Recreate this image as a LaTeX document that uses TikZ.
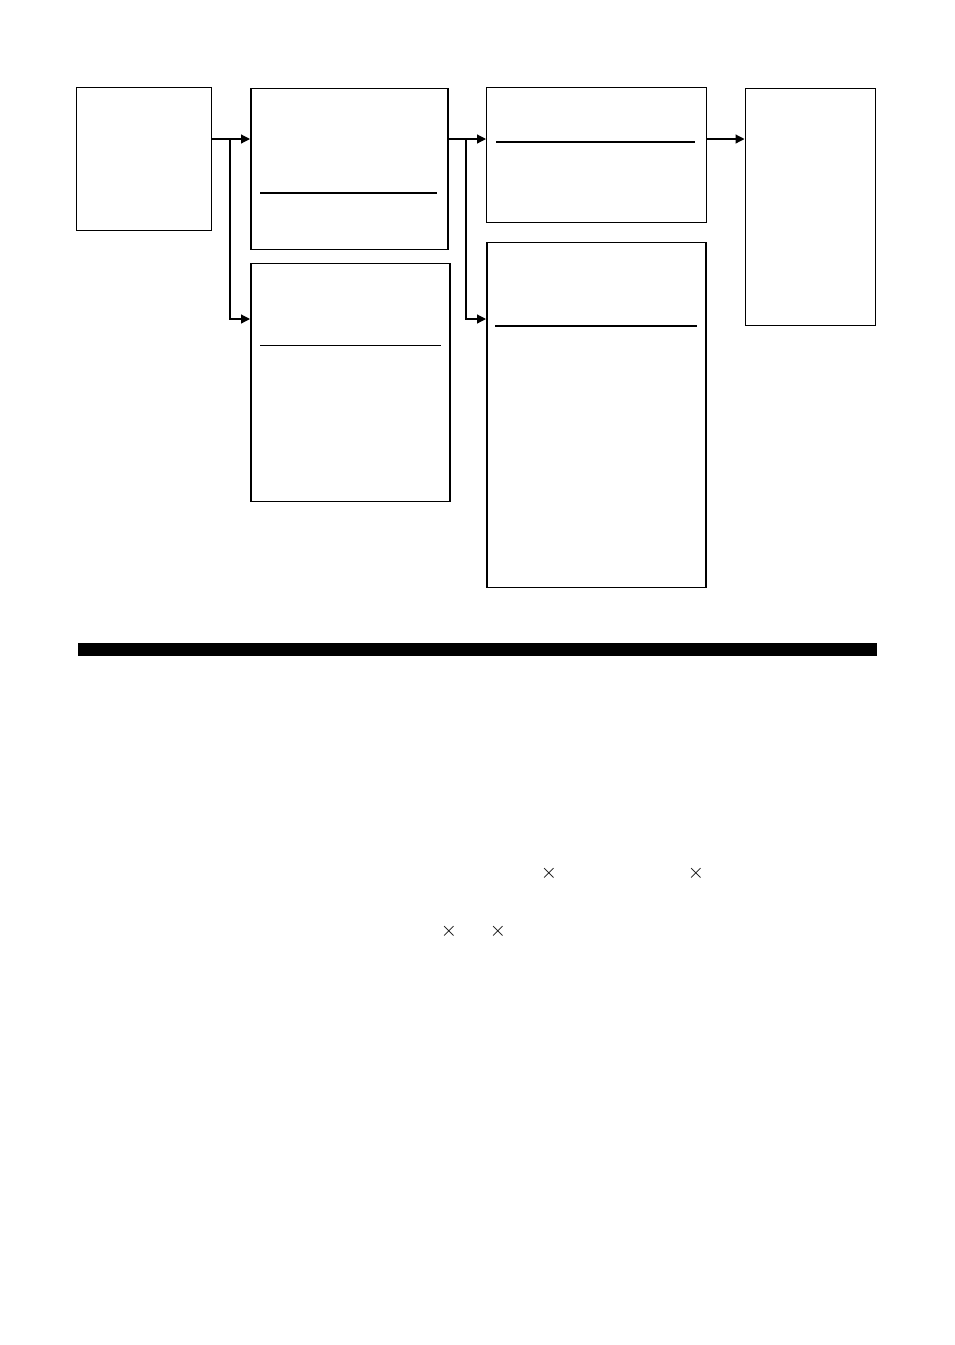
\documentclass[tikz,border=0pt]{standalone}
\usetikzlibrary{arrows.meta}
\begin{document}
\begin{tikzpicture}[x=1pt,y=-1pt,
  thinbox/.style={draw,line width=1pt},
  thickbox/.style={draw,line width=1.6pt},
  rule/.style={line width=1.8pt},
  thinrule/.style={line width=1pt},
  conn/.style={line width=1.2pt,-{Triangle[length=9pt,width=9pt]}},
  cross/.style={inner sep=0pt,font=\fontsize{22}{26}\selectfont}]
\useasboundingbox (0,0) rectangle (954,1345);
% boxes
\node[thinbox,minimum width=135pt,minimum height=143pt,anchor=north west,inner sep=0pt] (A) at (76,87) {};
\node[thickbox,minimum width=197pt,minimum height=161pt,anchor=north west,inner sep=0pt] (B) at (250,87.5) {};
\node[thickbox,minimum width=199pt,minimum height=238pt,anchor=north west,inner sep=0pt] (C) at (250,262.5) {};
\node[thinbox,minimum width=220pt,minimum height=135pt,anchor=north west,inner sep=0pt] (D) at (486,87) {};
\node[thickbox,minimum width=219pt,minimum height=345pt,anchor=north west,inner sep=0pt] (E) at (486,241.5) {};
\node[thickbox,minimum width=130pt,minimum height=237pt,anchor=north west,inner sep=0pt] (F) at (744.5,87.5) {};
% inner rules
\draw[rule] (260,193) -- (437,193);
\draw[thinrule] (260,345) -- (441,345);
\draw[rule] (496,142) -- (695,142);
\draw[rule] (495,326) -- (697,326);
% connectors
\coordinate (j1) at (230,139);
\coordinate (j2) at (466,139);
\draw[conn] (A.east |- j1) -- (B.west |- j1);
\draw[conn] (j1) -- (230,319) -- (C.west |- 0,319);
\draw[conn] (B.east |- j2) -- (D.west |- j2);
\draw[conn] (j2) -- (466,319) -- (E.west |- 0,319);
\draw[conn] (D.east |- j2) -- (F.west |- j2);
% bar
\fill (78,643) rectangle (877,656);
% crosses
\node[cross] (x1) at (549,873) {$\times$};
\node[cross] (x2) at (696,873) {$\times$};
\node[cross] (x3) at (449,931) {$\times$};
\node[cross] (x4) at (498,931) {$\times$};
\end{tikzpicture}
\end{document}
